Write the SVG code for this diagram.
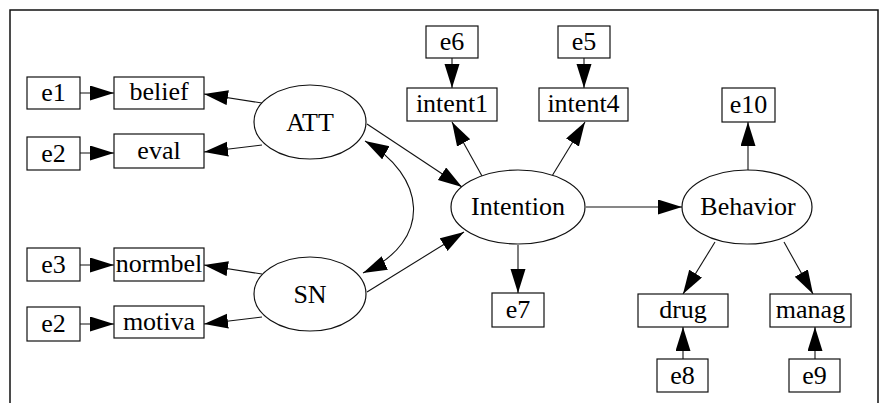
<svg xmlns="http://www.w3.org/2000/svg" width="884" height="403" viewBox="0 0 884 403">
<style>
.box{fill:#fff;stroke:#111;stroke-width:1.2}
.ell{fill:#fff;stroke:#111;stroke-width:1.2}
text{font-family:'Liberation Serif','Times New Roman','DejaVu Serif',serif;font-size:26px;fill:#000;text-anchor:middle}
.c{fill:none;stroke:#111;stroke-width:1.1}
</style>
<defs>
<marker id="ah" markerUnits="userSpaceOnUse" markerWidth="26" markerHeight="16" refX="24" refY="7.5" orient="auto-start-reverse" viewBox="0 0 26 16">
<path d="M0,0 L24,7.5 L0,15 Z" fill="#000"/>
</marker>
</defs>
<rect x="10" y="10" width="868" height="410" fill="none" stroke="#111" stroke-width="1.5"/>
<g id="connectors">
<line class="c" x1="80" y1="93" x2="114" y2="93" marker-end="url(#ah)"/>
<line class="c" x1="80" y1="153" x2="114" y2="153" marker-end="url(#ah)"/>
<line class="c" x1="80" y1="265" x2="114" y2="265" marker-end="url(#ah)"/>
<line class="c" x1="80" y1="324" x2="114" y2="324" marker-end="url(#ah)"/>
<line class="c" x1="262" y1="103" x2="204" y2="94" marker-end="url(#ah)"/>
<line class="c" x1="262" y1="145" x2="204" y2="152" marker-end="url(#ah)"/>
<line class="c" x1="262" y1="274" x2="204" y2="265" marker-end="url(#ah)"/>
<line class="c" x1="262" y1="317" x2="204" y2="324" marker-end="url(#ah)"/>
<line class="c" x1="367" y1="124" x2="462" y2="187" marker-end="url(#ah)"/>
<line class="c" x1="367" y1="292" x2="464" y2="232" marker-end="url(#ah)"/>
<path class="c" d="M365,141 C425,175 435,240 363,273" marker-start="url(#ah)" marker-end="url(#ah)"/>
<line class="c" x1="482" y1="176" x2="452" y2="122" marker-end="url(#ah)"/>
<line class="c" x1="552" y1="176" x2="585" y2="122" marker-end="url(#ah)"/>
<line class="c" x1="452" y1="58" x2="452" y2="88" marker-end="url(#ah)"/>
<line class="c" x1="584" y1="58" x2="584" y2="88" marker-end="url(#ah)"/>
<line class="c" x1="518" y1="245" x2="518" y2="293" marker-end="url(#ah)"/>
<line class="c" x1="586" y1="207" x2="682" y2="207" marker-end="url(#ah)"/>
<line class="c" x1="748" y1="170" x2="748" y2="122" marker-end="url(#ah)"/>
<line class="c" x1="715" y1="242" x2="683" y2="294" marker-end="url(#ah)"/>
<line class="c" x1="784" y1="242" x2="813" y2="294" marker-end="url(#ah)"/>
<line class="c" x1="683" y1="359" x2="683" y2="327" marker-end="url(#ah)"/>
<line class="c" x1="815" y1="359" x2="815" y2="327" marker-end="url(#ah)"/>
</g>
<g id="e1"><rect class="box" x="27" y="77" width="53" height="32"/><text x="53.5" y="101">e1</text></g>
<g id="belief"><rect class="box" x="114" y="77" width="90" height="32"/><text x="159" y="100">belief</text></g>
<g id="e2a"><rect class="box" x="27" y="137" width="53" height="33"/><text x="53.5" y="162">e2</text></g>
<g id="eval"><rect class="box" x="114" y="134" width="90" height="34"/><text x="159" y="159">eval</text></g>
<g id="e3"><rect class="box" x="27" y="248" width="53" height="33"/><text x="53.5" y="273">e3</text></g>
<g id="normbel"><rect class="box" x="114" y="248" width="90" height="33"/><text x="159" y="272">normbel</text></g>
<g id="e2b"><rect class="box" x="27" y="307" width="53" height="34"/><text x="53.5" y="332">e2</text></g>
<g id="motiva"><rect class="box" x="114" y="306" width="90" height="32"/><text x="159" y="330">motiva</text></g>
<g id="ATT"><ellipse class="ell" cx="310" cy="122" rx="56" ry="37"/><text x="310" y="131">ATT</text></g>
<g id="SN"><ellipse class="ell" cx="310" cy="294" rx="56" ry="37"/><text x="310" y="303">SN</text></g>
<g id="e6"><rect class="box" x="426" y="26" width="52" height="32"/><text x="452" y="50">e6</text></g>
<g id="intent1"><rect class="box" x="407" y="88" width="90" height="33"/><text x="452" y="112">intent1</text></g>
<g id="e5"><rect class="box" x="558" y="26" width="52" height="32"/><text x="584" y="50">e5</text></g>
<g id="intent4"><rect class="box" x="539" y="88" width="89" height="33"/><text x="583.5" y="112">intent4</text></g>
<g id="Intention"><ellipse class="ell" cx="518" cy="207" rx="67" ry="37"/><text x="518" y="215">Intention</text></g>
<g id="e7"><rect class="box" x="492" y="293" width="52" height="34"/><text x="518" y="318">e7</text></g>
<g id="e10"><rect class="box" x="722" y="88" width="53" height="34"/><text x="748.5" y="113">e10</text></g>
<g id="Behavior"><ellipse class="ell" cx="747" cy="207" rx="65" ry="37"/><text x="748" y="215">Behavior</text></g>
<g id="drug"><rect class="box" x="638" y="294" width="90" height="33"/><text x="683" y="318">drug</text></g>
<g id="manag"><rect class="box" x="770" y="294" width="81" height="33"/><text x="810.5" y="318">manag</text></g>
<g id="e8"><rect class="box" x="657" y="359" width="51" height="33"/><text x="682.5" y="384">e8</text></g>
<g id="e9"><rect class="box" x="789" y="359" width="51" height="33"/><text x="814.5" y="384">e9</text></g>
</svg>
